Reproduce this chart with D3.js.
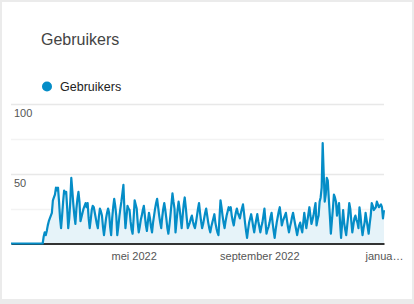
<!DOCTYPE html>
<html>
<head>
<meta charset="utf-8">
<script src="https://cdn.jsdelivr.net/npm/d3@7"></script>
<style>
  html, body { margin: 0; padding: 0; }
  body { width: 414px; height: 304px; background: #ebebeb; overflow: hidden; }
  #card { position: absolute; left: 2px; top: 2px; width: 410px; height: 297px; background: #fff; }
  svg { position: absolute; left: 0; top: 0; }
  text { font-family: "Liberation Sans", Arial, sans-serif; }
</style>
</head>
<body>
<div id="card"></div>
<svg id="chart" width="414" height="304"></svg>
<script>
// Chart data (daily users, 1 jan 2022 - 1 jan 2023)
var seriesName = "Gebruikers";
var startDate = "2022-01-01";
var users = [
  0,0,0,0,0,0,0,0,0,0,0,0,0,0,0,0,0,0,0,0,0,0,0,0,0,0,0,0,0,0,0,0,
  5,8,6,9,13,16,18,20,22,31,33,35,40,38,40,30,18,11,20,30,38,36,37,25,11,18,30,47,38,28,
  20,14,25,32,37,30,16,19,22,25,27,29,26,29,18,11,17,24,27,26,22,18,14,11,19,25,23,20,12,6,
  12,18,22,25,22,12,6,18,26,32,27,20,6,12,19,25,30,36,42,24,11,19,27,25,24,16,10,7,18,31,
  28,25,15,8,12,17,20,24,27,20,13,9,16,22,18,12,8,15,20,25,29,32,26,20,15,11,19,25,29,24,
  18,11,7,13,20,28,36,30,25,8,16,24,30,25,18,11,20,28,33,26,18,11,13,15,18,20,16,13,11,15,
  20,25,29,22,16,11,14,18,22,25,20,15,11,8,12,15,18,21,15,11,8,6,18,31,26,20,15,11,16,20,
  23,26,24,26,20,16,13,18,22,25,22,20,18,22,25,28,22,15,9,4,10,15,18,21,17,12,8,13,17,21,
  16,12,8,12,15,20,25,16,7,10,12,15,19,22,15,9,4,10,15,19,23,26,20,13,16,18,20,22,17,12,
  8,12,15,19,22,18,14,10,6,10,13,15,11,8,15,22,16,11,16,21,26,20,14,17,20,25,29,13,17,20,
  30,33,40,72,50,30,35,47,45,32,20,7,16,25,35,33,30,20,25,29,15,4,14,24,15,10,6,13,20,29,
  25,16,8,13,18,20,17,15,11,26,20,12,6,11,15,22,17,12,7,14,20,29,27,24,25,26,30,28,26,27,
  28,26,18,24
];
var yTicks = [0, 25, 50, 75, 100];
var yLabels = [50, 100];
var xTicks = ["2022-05-01", "2022-09-01", "2023-01-01"];
var xTickLabels = ["mei 2022", "september 2022", "janua\u2026"];

var parse = d3.timeParse("%Y-%m-%d");
var t0 = parse(startDate);
var data = users.map(function (v, i) {
  return { date: d3.timeDay.offset(t0, i), value: v };
});

var svg = d3.select("#chart");
var plot = { left: 11, right: 384, top: 104, bottom: 243.5 };

var x = d3.scaleTime()
  .domain([t0, data[data.length - 1].date])
  .range([plot.left, plot.right]);
var y = d3.scaleLinear().domain([0, 100]).range([plot.bottom, plot.top]);

// Title
svg.append("text")
  .attr("x", 41).attr("y", 45)
  .attr("font-size", 16).attr("fill", "#444")
  .text(seriesName);

// Legend
svg.append("circle").attr("cx", 47).attr("cy", 86.5).attr("r", 5).attr("fill", "#058dc7");
svg.append("text")
  .attr("x", 60).attr("y", 91)
  .attr("font-size", 12.5).attr("fill", "#222")
  .text(seriesName);

// Gridlines
svg.append("g").selectAll("line").data(yTicks.filter(function (d) { return d > 0; }))
  .enter().append("line")
  .attr("x1", plot.left).attr("x2", plot.right)
  .attr("y1", function (d) { return Math.round(y(d)) + 0.5; })
  .attr("y2", function (d) { return Math.round(y(d)) + 0.5; })
  .attr("stroke", function (d) { return d % 50 === 0 ? "#e8e8e8" : "#f3f3f3"; })
  .attr("stroke-width", 1.5);

// Y labels
svg.append("g").selectAll("text").data(yLabels)
  .enter().append("text")
  .attr("x", 14).attr("y", function (d) { return y(d) + 13; })
  .attr("font-size", 11).attr("fill", "#555")
  .text(function (d) { return d; });

// Area + line
var area = d3.area()
  .x(function (d) { return x(d.date); })
  .y0(y(0))
  .y1(function (d) { return y(d.value); });
var line = d3.line()
  .x(function (d) { return x(d.date); })
  .y(function (d) { return y(d.value); });

svg.append("path").datum(data)
  .attr("d", area)
  .attr("fill", "#e6f3f9");

// Baseline / x axis
var xAxis = d3.axisBottom(x)
  .tickValues(xTicks.map(parse))
  .tickSize(0)
  .tickPadding(9)
  .tickFormat(function (d, i) { return xTickLabels[i]; });

var gx = svg.append("g")
  .attr("transform", "translate(0," + plot.bottom + ")")
  .call(xAxis);
gx.select(".domain").attr("stroke", "#333").attr("stroke-width", 2);
gx.selectAll("text")
  .attr("font-family", "Liberation Sans, Arial, sans-serif")
  .attr("font-size", 11).attr("fill", "#555");

svg.append("path").datum(data)
  .attr("d", line)
  .attr("fill", "none")
  .attr("stroke", "#058dc7")
  .attr("stroke-width", 2.2)
  .attr("stroke-linejoin", "round");
</script>
</body>
</html>
